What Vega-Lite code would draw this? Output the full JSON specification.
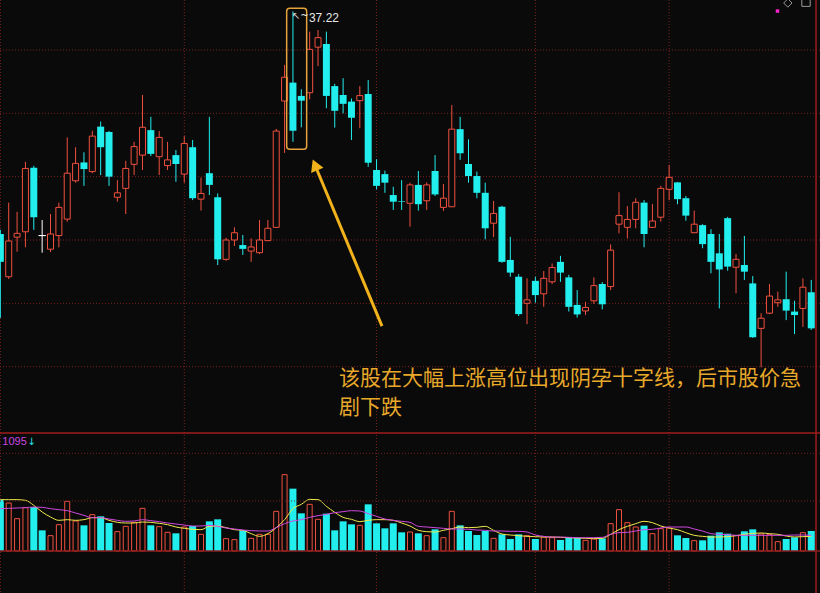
{
  "$schema": "https://vega.github.io/schema/vega-lite/v6.json",
  "width": 820,
  "height": 593,
  "autosize": {"type": "none"},
  "padding": 0,
  "background": "#0a0a0a",
  "config": {"view": {"stroke": null}, "scale": {"continuousPadding": 0}, "axis": {"disable": true}},
  "data": {"values": [
    {"i":0,"o":30.19,"c":29.31,"h":30.32,"l":27.54,"v":154,"m5":154,"m10":127},
    {"i":1,"o":28.84,"c":29.97,"h":31.18,"l":28.77,"v":144,"m5":154,"m10":128},
    {"i":2,"o":30.09,"c":30.21,"h":30.89,"l":29.63,"v":97,"m5":154,"m10":129},
    {"i":3,"o":30.26,"c":32.26,"h":32.47,"l":29.77,"v":130,"m5":152,"m10":130},
    {"i":4,"o":32.28,"c":30.72,"h":32.34,"l":30.32,"v":132,"m5":137,"m10":132},
    {"i":5,"o":30.14,"c":30.14,"h":30.63,"l":29.60,"v":62,"m5":117,"m10":131},
    {"i":6,"o":29.71,"c":30.19,"h":30.82,"l":29.62,"v":46,"m5":102,"m10":127},
    {"i":7,"o":30.14,"c":31.03,"h":31.18,"l":29.77,"v":79,"m5":92,"m10":124},
    {"i":8,"o":30.66,"c":32.11,"h":33.24,"l":30.58,"v":149,"m5":94,"m10":121},
    {"i":9,"o":31.87,"c":32.42,"h":32.93,"l":31.81,"v":90,"m5":92,"m10":114},
    {"i":10,"o":32.45,"c":32.24,"h":32.77,"l":31.71,"v":77,"m5":94,"m10":107},
    {"i":11,"o":32.16,"c":33.28,"h":33.45,"l":32.11,"v":109,"m5":100,"m10":100},
    {"i":12,"o":33.58,"c":32.93,"h":33.74,"l":32.05,"v":104,"m5":100,"m10":100},
    {"i":13,"o":33.41,"c":32.00,"h":33.44,"l":31.71,"v":84,"m5":92,"m10":96},
    {"i":14,"o":31.35,"c":31.49,"h":31.89,"l":31.21,"v":58,"m5":86,"m10":92},
    {"i":15,"o":31.63,"c":32.26,"h":32.50,"l":30.82,"v":74,"m5":84,"m10":89},
    {"i":16,"o":32.39,"c":32.95,"h":33.10,"l":32.05,"v":86,"m5":84,"m10":90},
    {"i":17,"o":32.68,"c":33.56,"h":34.58,"l":32.21,"v":128,"m5":87,"m10":94},
    {"i":18,"o":33.47,"c":32.72,"h":33.89,"l":32.65,"v":77,"m5":86,"m10":91},
    {"i":19,"o":32.63,"c":33.24,"h":33.44,"l":32.05,"v":73,"m5":83,"m10":88},
    {"i":20,"o":32.35,"c":32.53,"h":33.10,"l":32.21,"v":56,"m5":79,"m10":84},
    {"i":21,"o":32.68,"c":32.40,"h":32.84,"l":31.84,"v":53,"m5":72,"m10":81},
    {"i":22,"o":32.08,"c":33.05,"h":33.28,"l":31.81,"v":72,"m5":68,"m10":78},
    {"i":23,"o":32.93,"c":31.32,"h":33.16,"l":31.26,"v":75,"m5":65,"m10":75},
    {"i":24,"o":31.29,"c":31.47,"h":31.97,"l":30.93,"v":50,"m5":64,"m10":75},
    {"i":25,"o":32.11,"c":31.74,"h":33.89,"l":31.42,"v":89,"m5":74,"m10":77},
    {"i":26,"o":31.35,"c":29.39,"h":31.47,"l":29.21,"v":95,"m5":75,"m10":74},
    {"i":27,"o":29.39,"c":30.00,"h":30.07,"l":29.34,"v":37,"m5":70,"m10":69},
    {"i":28,"o":30.00,"c":30.23,"h":30.40,"l":29.81,"v":34,"m5":64,"m10":66},
    {"i":29,"o":29.84,"c":29.72,"h":30.16,"l":29.53,"v":62,"m5":62,"m10":63},
    {"i":30,"o":29.65,"c":29.78,"h":30.05,"l":29.31,"v":38,"m5":52,"m10":61},
    {"i":31,"o":29.60,"c":30.00,"h":30.63,"l":29.56,"v":50,"m5":44,"m10":60},
    {"i":32,"o":29.98,"c":30.37,"h":30.63,"l":29.97,"v":50,"m5":52,"m10":60},
    {"i":33,"o":30.40,"c":33.44,"h":33.51,"l":30.38,"v":119,"m5":70,"m10":70},
    {"i":34,"o":34.39,"c":35.14,"h":35.53,"l":32.75,"v":229,"m5":94,"m10":82},
    {"i":35,"o":34.97,"c":33.45,"h":37.22,"l":33.10,"v":187,"m5":127,"m10":90},
    {"i":36,"o":34.55,"c":34.40,"h":34.76,"l":33.56,"v":113,"m5":140,"m10":94},
    {"i":37,"o":34.65,"c":36.02,"h":36.58,"l":34.44,"v":140,"m5":155,"m10":101},
    {"i":38,"o":36.09,"c":36.39,"h":36.63,"l":35.49,"v":95,"m5":154,"m10":106},
    {"i":39,"o":36.19,"c":34.55,"h":36.58,"l":34.16,"v":112,"m5":134,"m10":110},
    {"i":40,"o":34.86,"c":34.08,"h":34.93,"l":33.55,"v":62,"m5":116,"m10":115},
    {"i":41,"o":34.58,"c":34.30,"h":35.11,"l":34.00,"v":89,"m5":101,"m10":118},
    {"i":42,"o":34.37,"c":33.86,"h":34.47,"l":33.16,"v":80,"m5":95,"m10":121},
    {"i":43,"o":34.40,"c":34.56,"h":34.86,"l":33.53,"v":77,"m5":88,"m10":120},
    {"i":44,"o":34.61,"c":32.44,"h":35.05,"l":32.31,"v":140,"m5":92,"m10":112},
    {"i":45,"o":32.21,"c":31.71,"h":32.55,"l":31.60,"v":83,"m5":94,"m10":104},
    {"i":46,"o":32.08,"c":31.81,"h":32.19,"l":31.49,"v":68,"m5":94,"m10":96},
    {"i":47,"o":31.42,"c":31.21,"h":31.68,"l":30.95,"v":83,"m5":92,"m10":92},
    {"i":48,"o":31.22,"c":31.20,"h":31.89,"l":30.95,"v":56,"m5":84,"m10":89},
    {"i":49,"o":31.16,"c":31.74,"h":31.81,"l":30.42,"v":57,"m5":75,"m10":86},
    {"i":50,"o":31.74,"c":31.13,"h":32.18,"l":30.93,"v":53,"m5":62,"m10":74},
    {"i":51,"o":31.24,"c":31.74,"h":31.82,"l":30.95,"v":46,"m5":58,"m10":72},
    {"i":52,"o":32.18,"c":31.44,"h":32.68,"l":31.39,"v":65,"m5":57,"m10":70},
    {"i":53,"o":31.03,"c":31.32,"h":31.77,"l":30.92,"v":40,"m5":62,"m10":68},
    {"i":54,"o":31.05,"c":33.50,"h":34.26,"l":31.04,"v":119,"m5":67,"m10":66},
    {"i":55,"o":33.50,"c":32.74,"h":33.89,"l":32.53,"v":77,"m5":72,"m10":66},
    {"i":56,"o":32.40,"c":32.02,"h":33.18,"l":31.81,"v":60,"m5":70,"m10":65},
    {"i":57,"o":32.02,"c":31.49,"h":32.16,"l":31.32,"v":48,"m5":71,"m10":63},
    {"i":58,"o":31.49,"c":30.37,"h":31.81,"l":30.02,"v":60,"m5":74,"m10":62},
    {"i":59,"o":30.53,"c":30.84,"h":31.23,"l":30.09,"v":38,"m5":62,"m10":60},
    {"i":60,"o":31.05,"c":29.31,"h":31.08,"l":29.28,"v":50,"m5":51,"m10":60},
    {"i":61,"o":29.37,"c":28.97,"h":30.10,"l":28.84,"v":36,"m5":48,"m10":59},
    {"i":62,"o":28.84,"c":27.66,"h":28.92,"l":27.60,"v":50,"m5":46,"m10":59},
    {"i":63,"o":28.00,"c":28.11,"h":28.79,"l":27.34,"v":46,"m5":44,"m10":57},
    {"i":64,"o":28.71,"c":28.26,"h":28.84,"l":28.02,"v":36,"m5":43,"m10":48},
    {"i":65,"o":28.30,"c":28.79,"h":29.02,"l":27.89,"v":42,"m5":42,"m10":44},
    {"i":66,"o":28.68,"c":29.13,"h":29.26,"l":28.61,"v":40,"m5":42,"m10":42},
    {"i":67,"o":29.31,"c":28.97,"h":29.50,"l":28.68,"v":33,"m5":41,"m10":42},
    {"i":68,"o":28.82,"c":27.89,"h":28.90,"l":27.74,"v":42,"m5":40,"m10":41},
    {"i":69,"o":27.95,"c":27.65,"h":28.42,"l":27.55,"v":39,"m5":39,"m10":40},
    {"i":70,"o":27.76,"c":27.87,"h":28.05,"l":27.63,"v":32,"m5":38,"m10":40},
    {"i":71,"o":28.08,"c":28.56,"h":28.82,"l":27.98,"v":36,"m5":37,"m10":40},
    {"i":72,"o":28.61,"c":27.97,"h":28.67,"l":27.81,"v":38,"m5":38,"m10":41},
    {"i":73,"o":28.53,"c":29.68,"h":29.86,"l":28.42,"v":82,"m5":50,"m10":50},
    {"i":74,"o":30.50,"c":30.77,"h":31.51,"l":30.21,"v":124,"m5":64,"m10":55},
    {"i":75,"o":30.40,"c":30.65,"h":31.07,"l":30.05,"v":85,"m5":74,"m10":56},
    {"i":76,"o":30.65,"c":31.19,"h":31.32,"l":30.37,"v":72,"m5":82,"m10":60},
    {"i":77,"o":31.18,"c":30.19,"h":31.26,"l":29.77,"v":76,"m5":89,"m10":64},
    {"i":78,"o":30.40,"c":30.60,"h":31.14,"l":30.38,"v":52,"m5":85,"m10":65},
    {"i":79,"o":30.72,"c":31.63,"h":31.71,"l":30.58,"v":67,"m5":75,"m10":69},
    {"i":80,"o":31.60,"c":31.98,"h":32.37,"l":31.26,"v":69,"m5":69,"m10":72},
    {"i":81,"o":31.82,"c":31.29,"h":31.83,"l":31.13,"v":47,"m5":64,"m10":72},
    {"i":82,"o":31.32,"c":30.77,"h":31.39,"l":30.61,"v":39,"m5":55,"m10":72},
    {"i":83,"o":30.23,"c":30.50,"h":30.93,"l":30.22,"v":31,"m5":47,"m10":66},
    {"i":84,"o":30.47,"c":29.87,"h":30.50,"l":29.74,"v":32,"m5":44,"m10":60},
    {"i":85,"o":30.19,"c":29.31,"h":30.34,"l":28.95,"v":46,"m5":42,"m10":52},
    {"i":86,"o":29.58,"c":29.07,"h":30.19,"l":27.84,"v":56,"m5":42,"m10":50},
    {"i":87,"o":30.69,"c":29.16,"h":30.73,"l":29.03,"v":52,"m5":43,"m10":49},
    {"i":88,"o":29.14,"c":29.39,"h":29.56,"l":28.32,"v":46,"m5":46,"m10":47},
    {"i":89,"o":29.21,"c":29.00,"h":30.13,"l":28.74,"v":59,"m5":50,"m10":47},
    {"i":90,"o":28.63,"c":26.93,"h":28.86,"l":26.91,"v":65,"m5":53,"m10":47},
    {"i":91,"o":27.21,"c":27.53,"h":27.69,"l":25.98,"v":51,"m5":54,"m10":47},
    {"i":92,"o":27.69,"c":28.23,"h":28.61,"l":27.66,"v":49,"m5":52,"m10":47},
    {"i":93,"o":28.02,"c":28.11,"h":28.37,"l":27.89,"v":28,"m5":50,"m10":47},
    {"i":94,"o":28.13,"c":27.77,"h":29.00,"l":27.47,"v":36,"m5":45,"m10":47},
    {"i":95,"o":27.74,"c":27.63,"h":28.08,"l":27.03,"v":41,"m5":42,"m10":48},
    {"i":96,"o":27.84,"c":28.51,"h":28.79,"l":27.26,"v":55,"m5":43,"m10":48},
    {"i":97,"o":28.35,"c":27.21,"h":28.74,"l":27.16,"v":60,"m5":44,"m10":47}
  ]},
  "layer": [
    {
      "layer": [
        {
          "data": {"values": [{}]},
          "layer": [
            {"mark": {"type": "rule", "color": "#7a2020", "strokeWidth": 1, "strokeDash": [1, 2]}, "encoding": {"x": {"datum": 0}}},
            {"mark": {"type": "rule", "color": "#7a2020", "strokeWidth": 1, "strokeDash": [1, 2]}, "encoding": {"x": {"datum": 22}}},
            {"mark": {"type": "rule", "color": "#7a2020", "strokeWidth": 1, "strokeDash": [1, 2]}, "encoding": {"x": {"datum": 45}}},
            {"mark": {"type": "rule", "color": "#7a2020", "strokeWidth": 1, "strokeDash": [1, 2]}, "encoding": {"x": {"datum": 64}}},
            {"mark": {"type": "rule", "color": "#7a2020", "strokeWidth": 1, "strokeDash": [1, 2]}, "encoding": {"x": {"datum": 80}}},
            {"mark": {"type": "rule", "color": "#7a2020", "strokeWidth": 1, "strokeDash": [1, 2]}, "encoding": {"y": {"datum": 36}}},
            {"mark": {"type": "rule", "color": "#7a2020", "strokeWidth": 1, "strokeDash": [1, 2]}, "encoding": {"y": {"datum": 34}}},
            {"mark": {"type": "rule", "color": "#7a2020", "strokeWidth": 1, "strokeDash": [1, 2]}, "encoding": {"y": {"datum": 32}}},
            {"mark": {"type": "rule", "color": "#7a2020", "strokeWidth": 1, "strokeDash": [1, 2]}, "encoding": {"y": {"datum": 30}}},
            {"mark": {"type": "rule", "color": "#7a2020", "strokeWidth": 1, "strokeDash": [1, 2]}, "encoding": {"y": {"datum": 28}}},
            {"mark": {"type": "rule", "color": "#7a2020", "strokeWidth": 1, "strokeDash": [1, 2]}, "encoding": {"y": {"datum": 26}}}
          ]
        },
        {
          "mark": {"type": "rule", "strokeWidth": 1},
          "encoding": {
            "x": {"field": "i", "type": "quantitative", "scale": {"domain": [-0.042, 98.045], "nice": false, "zero": false, "padding": 0}, "axis": null},
            "y": {"field": "l", "type": "quantitative", "scale": {"domain": [18.853, 37.579], "nice": false, "zero": false}, "axis": null},
            "y2": {"field": "h"},
            "color": {"condition": [{"test": "datum.c > datum.o", "value": "#f0503f"}, {"test": "datum.c < datum.o", "value": "#22eeee"}], "value": "#ffffff"}
          }
        },
        {
          "transform": [{"filter": "datum.c < datum.o"}],
          "mark": {"type": "bar", "size": 7, "orient": "vertical", "color": "#22eeee"},
          "encoding": {
            "x": {"field": "i", "type": "quantitative"},
            "y": {"field": "o", "type": "quantitative"},
            "y2": {"field": "c"}
          }
        },
        {
          "transform": [{"filter": "datum.c > datum.o"}],
          "mark": {"type": "bar", "size": 6, "orient": "vertical", "fill": "#0a0a0a", "stroke": "#f0503f", "strokeWidth": 1},
          "encoding": {
            "x": {"field": "i", "type": "quantitative"},
            "y": {"field": "o", "type": "quantitative"},
            "y2": {"field": "c"}
          }
        },
        {
          "transform": [{"filter": "datum.c == datum.o"}],
          "mark": {"type": "bar", "size": 7, "orient": "vertical", "fill": "#ffffff", "stroke": "#ffffff", "strokeWidth": 1},
          "encoding": {
            "x": {"field": "i", "type": "quantitative"},
            "y": {"field": "o", "type": "quantitative"},
            "y2": {"field": "c"}
          }
        },
        {
          "data": {"values": [{}]},
          "layer": [
            {
              "mark": {"type": "rule", "color": "#a01c1c", "strokeWidth": 1.5},
              "encoding": {"y": {"datum": 23.905}}
            },
            {
              "mark": {"type": "rule", "color": "#a01c1c", "strokeWidth": 1.5},
              "encoding": {"x": {"datum": 97.57}}
            },
            {
              "mark": {"type": "rect", "fillOpacity": 0, "stroke": "#e6a23c", "strokeWidth": 1.5, "cornerRadius": 3},
              "encoding": {
                "x": {"datum": 34.25},
                "x2": {"datum": 36.64},
                "y": {"datum": 37.317},
                "y2": {"datum": 32.864}
              }
            },
            {
              "mark": {"type": "text", "text": "37.22", "align": "left", "baseline": "middle", "font": "Liberation Sans", "fontWeight": "normal", "fontSize": 12, "color": "#e6e6e6", "dx": 16, "dy": 7},
              "encoding": {"x": {"datum": 35}, "y": {"datum": 37.22}}
            },
            {
              "mark": {"type": "text", "text": "↖~", "align": "left", "baseline": "middle", "font": "DejaVu Sans", "fontSize": 10, "color": "#e6e6e6", "dx": -1, "dy": 5},
              "encoding": {"x": {"datum": 35}, "y": {"datum": 37.22}}
            },
            {
              "mark": {"type": "rule", "color": "#f2b21c", "strokeWidth": 3},
              "encoding": {
                "x": {"datum": 45.65},
                "y": {"datum": 27.28},
                "x2": {"datum": 37.88},
                "y2": {"datum": 32.21}
              }
            },
            {
              "mark": {"type": "point", "shape": "triangle-up", "filled": true, "color": "#f2b21c", "size": 180, "opacity": 1, "angle": 337},
              "encoding": {"x": {"datum": 37.64}, "y": {"datum": 32.37}}
            },
            {
              "mark": {"type": "text", "text": ["该股在大幅上涨高位出现阴孕十字线，后市股价急", "剧下跌"], "align": "left", "baseline": "alphabetic", "font": "Noto Sans CJK SC", "fontWeight": "normal", "fontSize": 21, "lineHeight": 29, "color": "#e8a82a"},
              "encoding": {"x": {"datum": 40.5}, "y": {"datum": 25.42}}
            },
            {
              "mark": {"type": "point", "shape": "square", "filled": true, "color": "#ff22cc", "size": 12, "opacity": 1},
              "encoding": {"x": {"datum": 92.96}, "y": {"datum": 37.23}}
            },
            {
              "mark": {"type": "point", "shape": "diamond", "filled": false, "color": "#9a9a9a", "size": 70, "opacity": 1, "strokeWidth": 1},
              "encoding": {"x": {"datum": 94.2}, "y": {"datum": 37.484}}
            },
            {
              "mark": {"type": "point", "shape": "square", "filled": false, "color": "#9a9a9a", "size": 70, "opacity": 1, "strokeWidth": 1},
              "encoding": {"x": {"datum": 96.37}, "y": {"datum": 37.51}}
            }
          ]
        }
      ]
    },
    {
      "layer": [
        {
          "transform": [{"filter": "datum.c <= datum.o"}],
          "mark": {"type": "bar", "size": 7, "orient": "vertical", "color": "#22eeee"},
          "encoding": {
            "x": {"field": "i", "type": "quantitative"},
            "y": {"field": "v", "type": "quantitative", "stack": null, "scale": {"domain": [-126, 1653], "nice": false, "zero": false}, "axis": null}
          }
        },
        {
          "transform": [{"filter": "datum.c > datum.o"}],
          "mark": {"type": "bar", "size": 5, "orient": "vertical", "fill": "#0a0a0a", "stroke": "#f0503f", "strokeWidth": 1},
          "encoding": {
            "x": {"field": "i", "type": "quantitative"},
            "y": {"field": "v", "type": "quantitative", "stack": null}
          }
        },
        {
          "mark": {"type": "line", "color": "#eeea4a", "strokeWidth": 1, "interpolate": "monotone"},
          "encoding": {
            "x": {"field": "i", "type": "quantitative"},
            "y": {"field": "m5", "type": "quantitative"}
          }
        },
        {
          "mark": {"type": "line", "color": "#d048e0", "strokeWidth": 1, "interpolate": "monotone"},
          "encoding": {
            "x": {"field": "i", "type": "quantitative"},
            "y": {"field": "m10", "type": "quantitative"}
          }
        },
        {
          "data": {"values": [{}]},
          "layer": [
            {"mark": {"type": "rule", "color": "#7a2020", "strokeWidth": 1, "strokeDash": [1, 2]}, "encoding": {"y": {"datum": 150}}},
            {"mark": {"type": "rule", "color": "#7a2020", "strokeWidth": 1, "strokeDash": [1, 2]}, "encoding": {"y": {"datum": 293}}},
            {
              "mark": {"type": "rule", "color": "#8c1c1c", "strokeWidth": 1.5},
              "encoding": {"y": {"datum": 0}}
            },
            {
              "mark": {"type": "text", "text": "1095", "align": "left", "baseline": "middle", "font": "Liberation Sans", "fontWeight": "normal", "fontSize": 11, "color": "#c848e0", "dx": 2},
              "encoding": {"x": {"datum": 0}, "y": {"datum": 327}}
            },
            {
              "mark": {"type": "text", "text": "↓", "align": "left", "baseline": "middle", "font": "DejaVu Sans", "fontSize": 10, "color": "#22eeee", "dx": 27},
              "encoding": {"x": {"datum": 0}, "y": {"datum": 327}}
            }
          ]
        }
      ]
    }
  ],
  "resolve": {"scale": {"y": "independent"}}
}
